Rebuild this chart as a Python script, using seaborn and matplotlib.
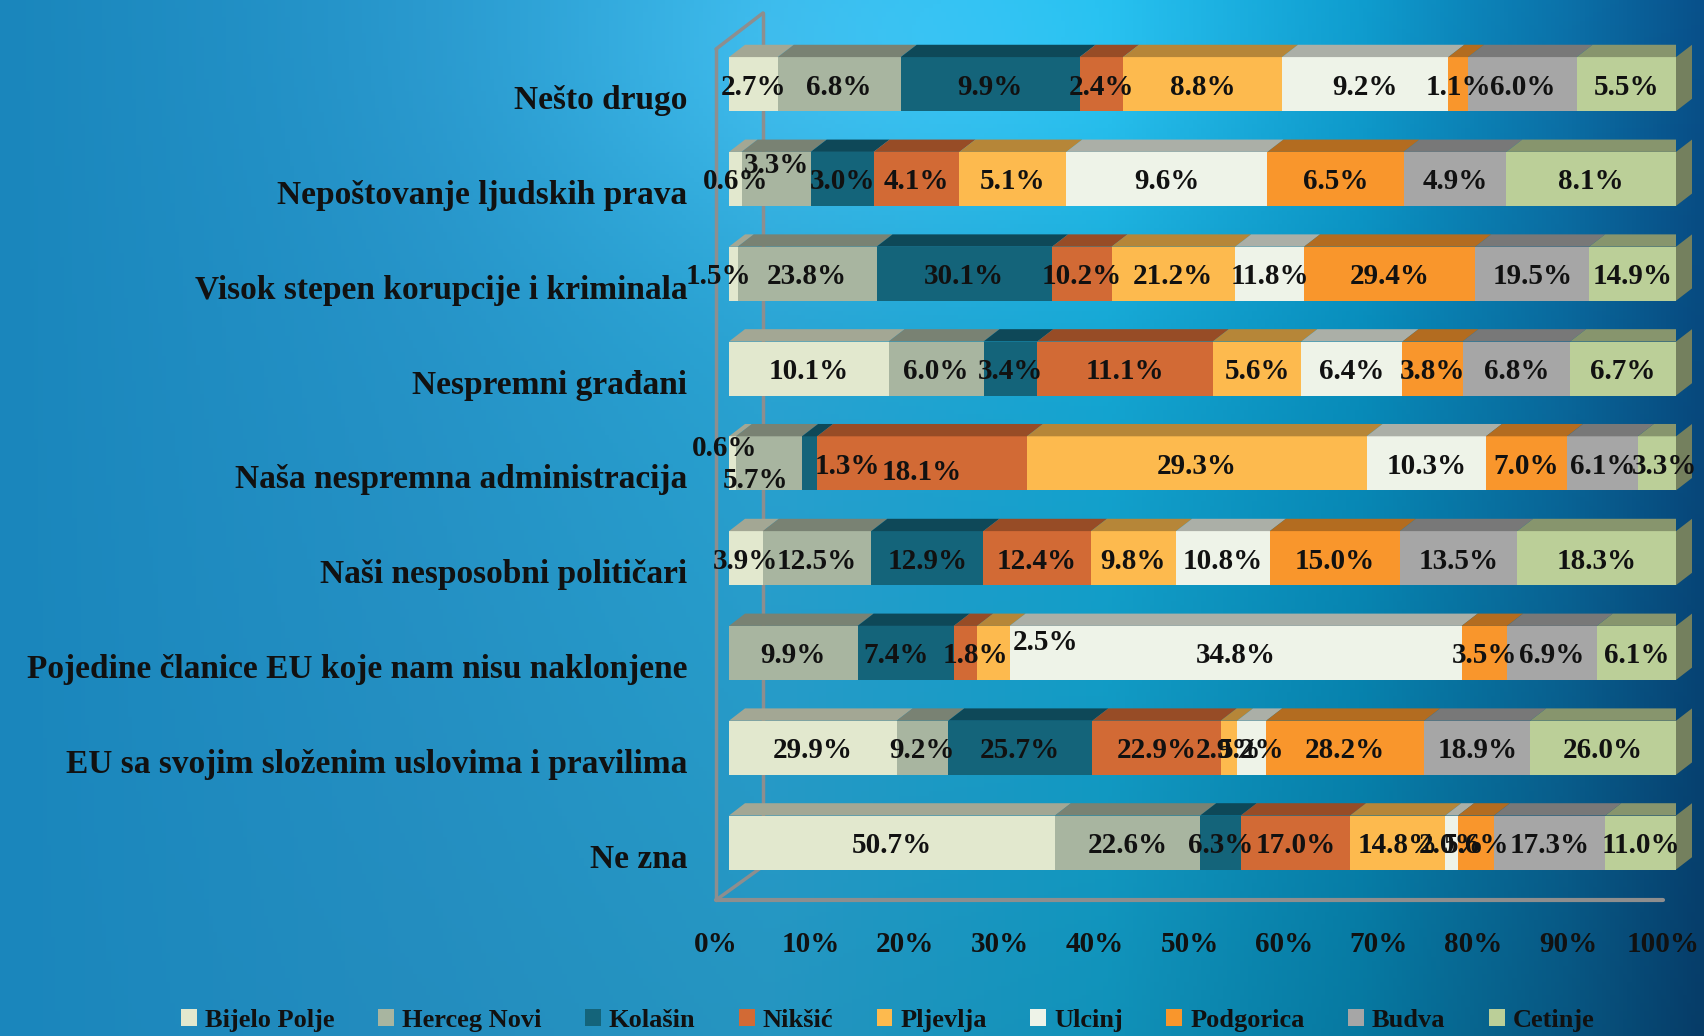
import numpy as np
import pandas as pd
import seaborn as sns
import matplotlib.pyplot as plt
from matplotlib.patches import Polygon, Patch
from matplotlib.transforms import ScaledTranslation
from matplotlib.colors import to_rgb

categories = ["Nešto drugo", "Nepoštovanje ljudskih prava", "Visok stepen korupcije i kriminala",
              "Nespremni građani", "Naša nespremna administracija", "Naši nesposobni političari",
              "Pojedine članice EU koje nam nisu naklonjene",
              "EU sa svojim složenim uslovima i pravilima", "Ne zna"]
cities = ["Bijelo Polje", "Herceg Novi", "Kolašin", "Nikšić", "Pljevlja",
          "Ulcinj", "Podgorica", "Budva", "Cetinje"]

bijelo_polje = [2.7, 0.6, 1.5, 10.1, 0.6, 3.9, 0.0, 29.9, 50.7]
herceg_novi = [6.8, 3.3, 23.8, 6.0, 5.7, 12.5, 9.9, 9.2, 22.6]
kolasin = [9.9, 3.0, 30.1, 3.4, 1.3, 12.9, 7.4, 25.7, 6.3]
niksic = [2.4, 4.1, 10.2, 11.1, 18.1, 12.4, 1.8, 22.9, 17.0]
pljevlja = [8.8, 5.1, 21.2, 5.6, 29.3, 9.8, 2.5, 2.9, 14.8]
ulcinj = [9.2, 9.6, 11.8, 6.4, 10.3, 10.8, 34.8, 5.2, 2.0]
podgorica = [1.1, 6.5, 29.4, 3.8, 7.0, 15.0, 3.5, 28.2, 5.6]
budva = [6.0, 4.9, 19.5, 6.8, 6.1, 13.5, 6.9, 18.9, 17.3]
cetinje = [5.5, 8.1, 14.9, 6.7, 3.3, 18.3, 6.1, 26.0, 11.0]

boje = ["#E2E8CE", "#A8B5A0", "#14647A", "#D26A35", "#FDBA4E",
        "#EEF3E8", "#F9962C", "#A6A6A6", "#BBCF98"]

df = pd.DataFrame({"Bijelo Polje": bijelo_polje, "Herceg Novi": herceg_novi, "Kolašin": kolasin,
                   "Nikšić": niksic, "Pljevlja": pljevlja, "Ulcinj": ulcinj,
                   "Podgorica": podgorica, "Budva": budva, "Cetinje": cetinje}, index=categories)
udio = df.div(df.sum(axis=1), axis=0)
lijevo = udio.cumsum(axis=1) - udio

sns.set_theme(style="white")
plt.rcParams["font.family"] = ["Liberation Serif", "DejaVu Serif"]
plt.rcParams["font.weight"] = "bold"

fig = plt.figure(figsize=(17.04, 10.36), dpi=100)

# pozadina - plavi gradijent
bg = fig.add_axes([0, 0, 1, 1], zorder=-5)
X, Y = np.meshgrid(np.linspace(0, 1, 400), np.linspace(0, 1, 250))
xs = [0, 0.25, 0.45, 0.65, 0.8, 0.92, 1.0]
cols = [to_rgb(c) for c in ["#1A86BC", "#2696CB", "#2AA8D9", "#14AEDD", "#0896C8", "#0A70A8", "#08508A"]]
img = np.zeros(X.shape + (3,))
for k in range(3):
    img[..., k] = np.interp(X, xs, [c[k] for c in cols])
img *= (1 - 0.25 * Y * X)[..., None]
sjaj = 0.10 * np.exp(-((X - 0.55) ** 2 / 0.05 + (Y - 0.05) ** 2 / 0.04))
img = np.clip(img + sjaj[..., None], 0, 1)
bg.imshow(img, aspect="auto", extent=[0, 1, 0, 1])
bg.axis("off")

ax = fig.add_axes([729 / 1704, 136 / 1036, 947 / 1704, 887 / 1036])
ax.set_facecolor("none")
ax.set_xlim(0, 1)
ax.set_ylim(-0.606, 8.75)

ypos = np.arange(len(categories))[::-1]
H = 0.57
dx, dy = 0.0169, 0.13

def tamnije(c, f):
    r, g, b = to_rgb(c)
    return (r * f, g * f, b * f)

# zidovi
siva = "#8E8E8E"
ax.plot([-0.0137, -0.0137], [-0.606, 8.37], color=siva, lw=2.5, zorder=1, clip_on=False)
ax.plot([0.0359, 0.0359], [-0.25, 8.75], color=siva, lw=2.5, zorder=1, clip_on=False)
ax.plot([-0.0137, 0.0359], [8.37, 8.75], color=siva, lw=2.5, zorder=1, clip_on=False)
ax.plot([-0.0137, 0.0359], [-0.606, -0.25], color=siva, lw=2.5, zorder=1, clip_on=False)
ax.plot([-0.0137, 0.986], [-0.606, -0.606], color=siva, lw=3, zorder=1, clip_on=False)

pomaci = {
    ("Nepoštovanje ljudskih prava", "Herceg Novi"): (0, 16),
    ("Naša nespremna administracija", "Bijelo Polje"): (-8, 18),
    ("Naša nespremna administracija", "Herceg Novi"): (-13, -14),
    ("Naša nespremna administracija", "Kolašin"): (38, 0),
    ("Naša nespremna administracija", "Nikšić"): (0, -6),
    ("Naša nespremna administracija", "Cetinje"): (8, 0),
    ("Pojedine članice EU koje nam nisu naklonjene", "Pljevlja"): (52, 13),
    ("Pojedine članice EU koje nam nisu naklonjene", "Nikšić"): (10, 0),
    ("Pojedine članice EU koje nam nisu naklonjene", "Kolašin"): (-10, 0),
    ("Visok stepen korupcije i kriminala", "Bijelo Polje"): (-15, 0),
}

for j, grad in enumerate(cities):
    ax.barh(ypos, udio[grad], left=lijevo[grad], height=H, color=boje[j],
            edgecolor="none", zorder=3)
    for i, kat in enumerate(categories):
        w = udio.loc[kat, grad]
        if w <= 0:
            continue
        l = lijevo.loc[kat, grad]
        y = ypos[i]
        gore = y + H / 2
        ax.add_patch(Polygon([(l, gore), (l + dx, gore + dy), (l + w + dx, gore + dy), (l + w, gore)],
                             closed=True, color=tamnije(boje[j], 0.72), lw=0, zorder=3))
        if j == len(cities) - 1:
            ax.add_patch(Polygon([(l + w, y - H / 2), (l + w + dx, y - H / 2 + dy),
                                  (l + w + dx, gore + dy), (l + w, gore)],
                                 closed=True, color=tamnije(boje[j], 0.62), lw=0, zorder=3,
                                 clip_on=False))
        px, py = pomaci.get((kat, grad), (0, 0))
        ax.annotate(f"{df.loc[kat, grad]:.1f}%", xy=(l + w / 2, y),
                    xytext=(px, py - 3), textcoords="offset pixels",
                    ha="center", va="center", fontsize=21, fontweight="bold",
                    color="#111111", zorder=5, annotation_clip=False)

ax.set_yticks(ypos - 0.137)
ax.set_yticklabels(categories, fontsize=24, fontweight="bold", color="#111111")
ax.set_xticks(np.linspace(0, 1, 11))
ax.set_xticklabels([f"{v}%" for v in range(0, 101, 10)], fontsize=21, fontweight="bold",
                   color="#111111")
ax.tick_params(axis="y", length=0, pad=30)
ax.tick_params(axis="x", length=0, pad=22)
pomak = ScaledTranslation(-0.13, 0, fig.dpi_scale_trans)
for t in ax.get_xticklabels():
    t.set_transform(t.get_transform() + pomak)
for s in ax.spines.values():
    s.set_visible(False)
ax.grid(False)

rucke = [Patch(facecolor=boje[j], edgecolor="none") for j in range(len(cities))]
fig.legend(rucke, cities, loc="center", bbox_to_anchor=(0.521, 0.0154), ncol=9, frameon=False,
           prop={"size": 19, "weight": "bold"}, handlelength=0.6, handleheight=0.6,
           handletextpad=0.3, columnspacing=1.65, labelcolor="#111111")

fig.savefig("out.png", dpi=100)
